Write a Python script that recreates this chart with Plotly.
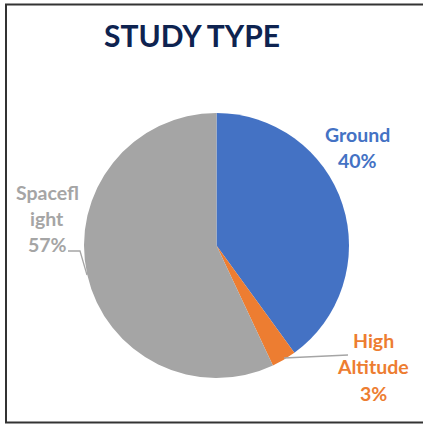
import plotly.graph_objects as go

# Study type breakdown
categories = ["Ground", "High Altitude", "Spaceflight"]
shares = [40, 3, 57]
colors = ["#4472C4", "#ED7D31", "#A5A5A5"]
# how each category name is wrapped in its outside label
label_lines = {"Ground": ["Ground"], "High Altitude": ["High", "Altitude"], "Spaceflight": ["Spacefl", "ight"]}

W, H = 423, 425


def px(x):
    return x / W


def py(y):
    return 1 - y / H


fig = go.Figure()
fig.add_trace(go.Pie(
    labels=categories,
    values=shares,
    sort=False,
    direction="clockwise",
    rotation=0,
    marker=dict(colors=colors, line=dict(width=0)),
    textinfo="none",
    hoverinfo="label+percent",
    showlegend=False,
    domain=dict(x=[px(84), px(349)], y=[py(378), py(113)]),
))

# label anchor (center x, top line y) for each category
label_pos = {"Ground": (357, 134), "High Altitude": (373, 340), "Spaceflight": (47, 192)}
line_h = 26.5
annotations = []
for cat, val, col in zip(categories, shares, colors):
    cx, cy = label_pos[cat]
    lines = label_lines[cat] + [f"{val}%"]
    for i, t in enumerate(lines):
        annotations.append(dict(
            x=px(cx), y=py(cy + i * line_h), xref="paper", yref="paper",
            text=f"<b>{t}</b>", showarrow=False, xanchor="center", yanchor="middle",
            font=dict(family="Lato", size=19.5, color=col),
        ))

annotations.append(dict(
    x=px(192), y=py(35), xref="paper", yref="paper",
    text="<b>STUDY TYPE</b>", showarrow=False, xanchor="center", yanchor="middle",
    font=dict(family="Lato", size=30, color="#0E2350"),
))

shapes = [
    # leader lines
    dict(type="path", xref="paper", yref="paper",
         path=f"M {px(68)} {py(251)} L {px(80)} {py(251)} L {px(87)} {py(275)}",
         line=dict(color="#A5A5A5", width=1.3)),
    dict(type="path", xref="paper", yref="paper",
         path=f"M {px(284)} {py(358)} L {px(348)} {py(355)}",
         line=dict(color="#A5A5A5", width=1.3)),
    # frame
    dict(type="path", xref="paper", yref="paper",
         path=f"M {px(430)} {py(4.5)} L {px(6)} {py(4.5)} L {px(6)} {py(422.5)} L {px(430)} {py(422.5)}",
         line=dict(color="#333333", width=2)),
]

fig.update_layout(
    width=W, height=H,
    margin=dict(l=0, r=0, t=0, b=0),
    paper_bgcolor="white",
    plot_bgcolor="white",
    annotations=annotations,
    shapes=shapes,
)

fig.write_html("out.html")
